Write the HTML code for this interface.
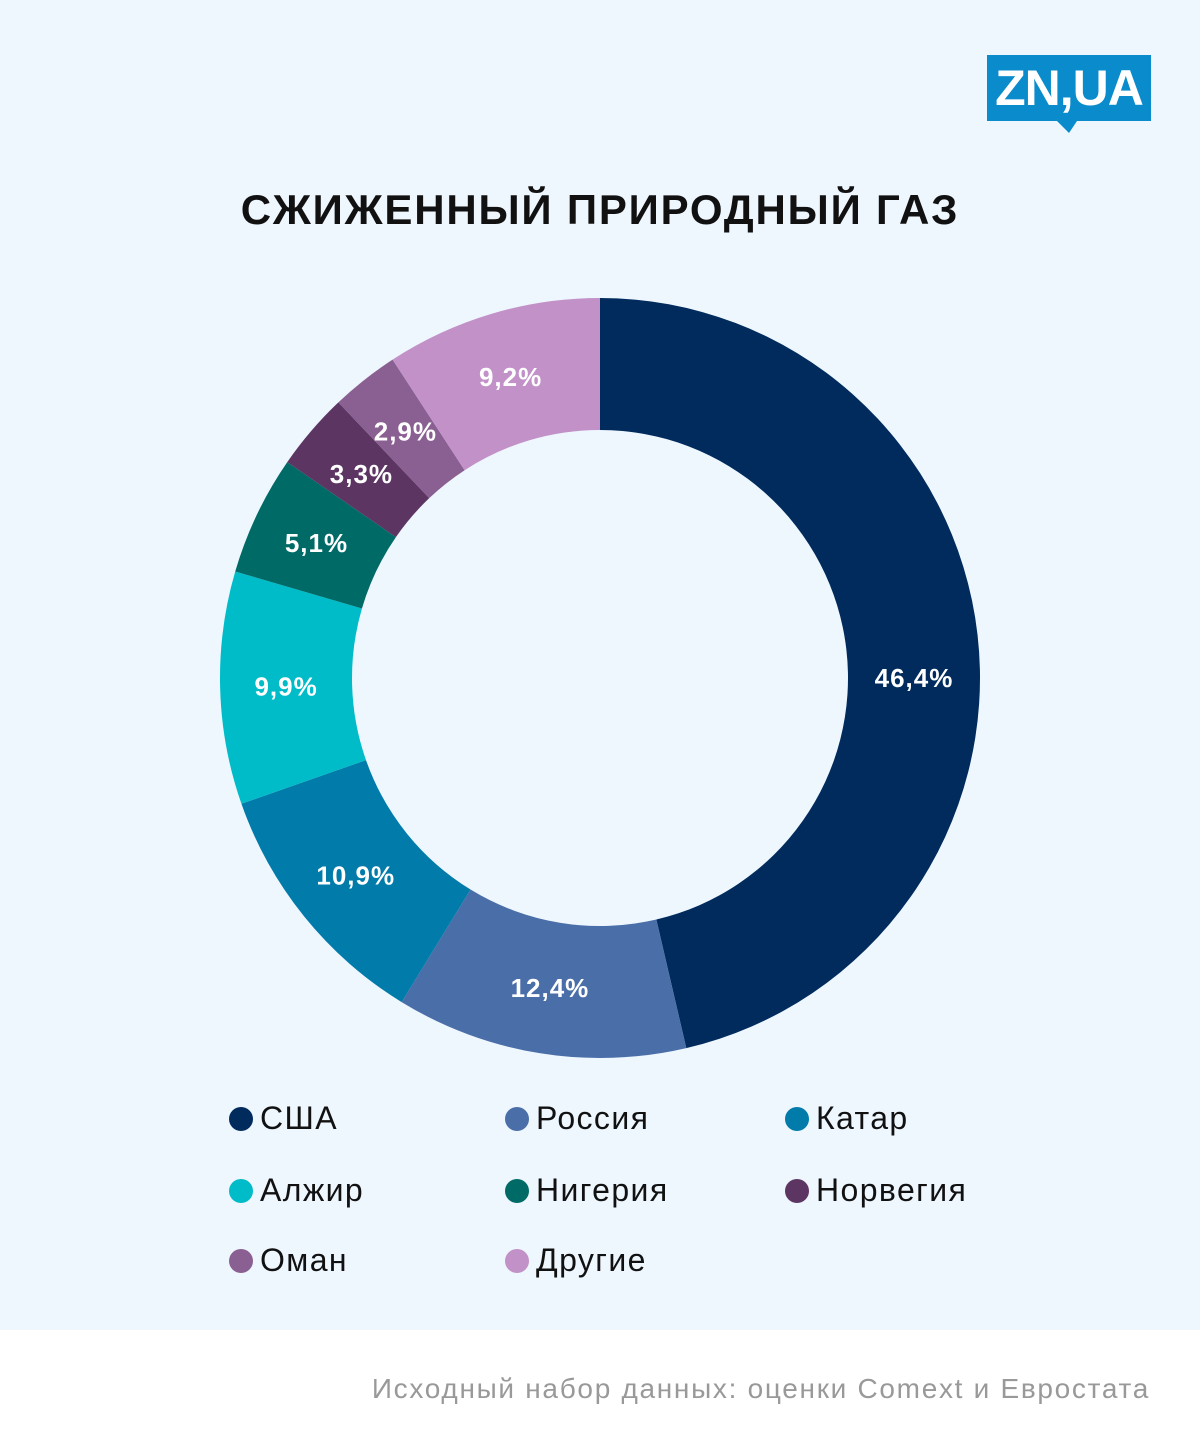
<!DOCTYPE html>
<html><head><meta charset="utf-8"><style>
body{margin:0;width:1200px;height:1454px;font-family:"Liberation Sans","DejaVu Sans",sans-serif;background:#fff;position:relative;overflow:hidden}
#main{position:absolute;left:0;top:0;width:1200px;height:1330px;background:#eef6fe}
#title{position:absolute;top:186px;left:0;width:1200px;text-align:center;font-weight:bold;font-size:42px;color:#111;letter-spacing:1.8px}
#logo{position:absolute;left:987px;top:55px;width:164px;height:66px;background:#0a8bcb;color:#fff;font-weight:bold;font-size:50px;line-height:66px;text-align:center;letter-spacing:-1px}
#logo:after{content:"";position:absolute;left:70px;bottom:-12px;border-left:12px solid transparent;border-right:8px solid transparent;border-top:12px solid #0a8bcb}
.leg{position:absolute;font-size:32px;color:#111;line-height:36px;letter-spacing:1.4px}
.leg span{display:inline-block;width:24px;height:24px;border-radius:50%;vertical-align:-2px;margin-right:7px}
#foot{position:absolute;right:50px;top:1373px;font-size:28px;color:#999;letter-spacing:1.7px}
</style></head><body>
<div id="main">
<div id="logo">ZN,UA</div>
<div id="title">СЖИЖЕННЫЙ ПРИРОДНЫЙ ГАЗ</div>
<svg id="donut" width="1200" height="1330" style="position:absolute;left:0;top:0"></svg>
<div id="legend"></div>
</div>
<div id="foot">Исходный набор данных: оценки Comext и Евростата</div>
<script>
const categories=["США","Россия","Катар","Алжир","Нигерия","Норвегия","Оман","Другие"];
const values=[46.4,12.4,10.9,9.9,5.1,3.3,2.9,9.2];
const labels=["46,4%","12,4%","10,9%","9,9%","5,1%","3,3%","2,9%","9,2%"];
const colors=["#002b5c","#4a6ea8","#007baa","#00bcc8","#006a66","#5c3563","#8a5f91","#c191c8"];
const cx=600,cy=678,R=380,r=248;
const svg=document.getElementById('donut');
const NS="http://www.w3.org/2000/svg";
const total=values.reduce((a,b)=>a+b,0);
function pt(rad,a){return [cx+rad*Math.sin(a),cy-rad*Math.cos(a)];}
let acc=0;
values.forEach((v,i)=>{
 const a0=acc/total*2*Math.PI;acc+=v;const a1=acc/total*2*Math.PI;
 const lg=(a1-a0)>Math.PI?1:0;
 const [x0,y0]=pt(R,a0),[x1,y1]=pt(R,a1),[x2,y2]=pt(r,a1),[x3,y3]=pt(r,a0);
 const p=document.createElementNS(NS,'path');
 p.setAttribute('d',`M${x0},${y0}A${R},${R} 0 ${lg} 1 ${x1},${y1}L${x2},${y2}A${r},${r} 0 ${lg} 0 ${x3},${y3}Z`);
 p.setAttribute('fill',colors[i]);
 
 
 svg.appendChild(p);
 let am=(a0+a1)/2;
 if(a1-a0>Math.PI/2) am=Math.PI/2;
 const [lx,ly]=pt((R+r)/2,am);
 const t=document.createElementNS(NS,'text');
 t.setAttribute('x',lx);t.setAttribute('y',ly+9);
 t.setAttribute('text-anchor','middle');t.setAttribute('fill','#fff');
 t.setAttribute('font-size','26');t.setAttribute('font-weight','bold');
 t.setAttribute('letter-spacing','1');
 t.setAttribute('font-family','Liberation Sans, sans-serif');
 t.textContent=labels[i];
 
 
 svg.appendChild(t);
});
const lg=document.getElementById('legend');
const colX=[229,505,785],rowY=[1100,1172,1242];
categories.forEach((c,i)=>{
 const d=document.createElement('div');d.className='leg';
 d.style.left=colX[i%3]+'px';d.style.top=rowY[Math.floor(i/3)]+'px';
 d.innerHTML='<span style="background:'+colors[i]+'"></span>'+c;
 
 
 lg.appendChild(d);
});
</script>
</body></html>
